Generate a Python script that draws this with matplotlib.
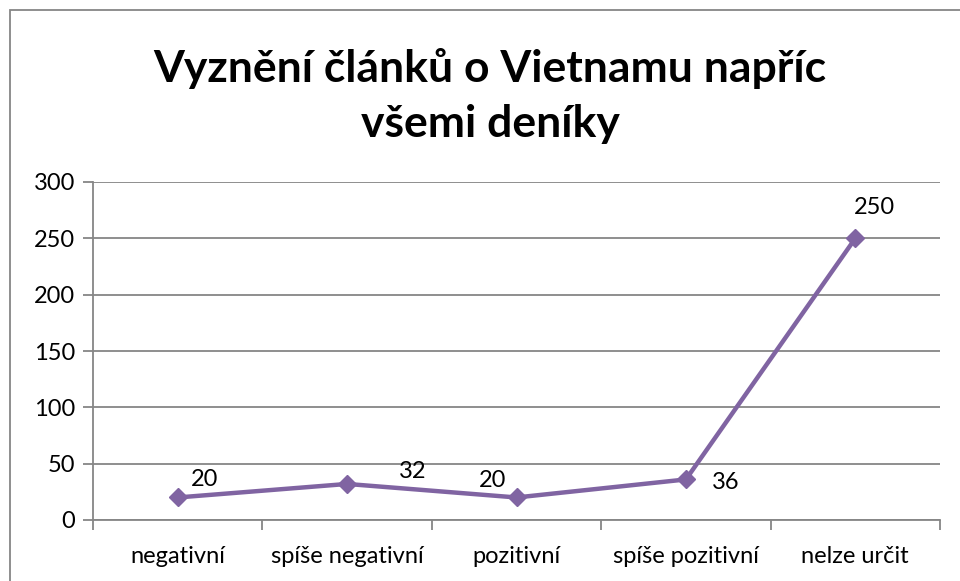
import matplotlib
matplotlib.use("Agg")
import matplotlib.pyplot as plt
from matplotlib.patches import Rectangle
import numpy as np

categories = ["negativní", "spíše negativní", "pozitivní", "spíše pozitivní", "nelze určit"]
values = [20, 32, 20, 36, 250]
y_ticks = [0, 50, 100, 150, 200, 250, 300]
title = "Vyznění článků o Vietnamu napříc\nvšemi deníky"

# label offsets from each point, in points
label_offsets = [(19, 13), (47, 9), (-17, 12), (29, -2), (14, 22)]

plt.rcParams["font.family"] = ["Lato", "DejaVu Sans"]

fig = plt.figure(figsize=(9.6, 5.81), dpi=100)
W, H = 960, 581
ax = fig.add_axes([93 / W, (H - 520) / H, (940 - 93) / W, (520 - 182) / H])

grid_c = "#868686"
line_c = "#8064A2"
fs = 17

x = np.arange(len(categories))
ax.plot(x, values, color=line_c, lw=3.2, marker="D", ms=9, zorder=3,
        solid_joinstyle="round")

for xi, v, off in zip(x, values, label_offsets):
    ax.annotate(str(v), (xi, v), xytext=off, textcoords="offset points",
                ha="center", va="center", fontsize=fs, color="black")

ax.set_xlim(-0.5, len(categories) - 0.5)
ax.set_ylim(0, 300)
ax.set_yticks(y_ticks)
ax.set_yticklabels([str(t) for t in y_ticks])
ax.yaxis.grid(True, color=grid_c, lw=1.3)
ax.set_axisbelow(True)

ax.set_xticks(x)
ax.set_xticklabels(categories)
ax.set_xticks(np.arange(-0.5, len(categories)), minor=True)
ax.tick_params(axis="x", which="major", length=0, pad=19, labelsize=fs)
ax.tick_params(axis="x", which="minor", length=7, width=1.3, color=grid_c)
ax.tick_params(axis="y", length=7, width=1.3, color=grid_c, pad=6, labelsize=fs)

for s in ["top", "right"]:
    ax.spines[s].set_visible(False)
for s in ["left", "bottom"]:
    ax.spines[s].set_color(grid_c)
    ax.spines[s].set_linewidth(1.3)

fig.text(490 / W, 1 - 96 / H, title, ha="center", va="center",
         fontsize=32, fontweight="bold", linespacing=1.45)

# chart frame
fig.patches.append(Rectangle((10 / W, -0.1), 1.2, 1.1 - 10 / H,
                             transform=fig.transFigure, fill=False,
                             edgecolor=grid_c, lw=1.3))

fig.savefig("out.png", dpi=100)
